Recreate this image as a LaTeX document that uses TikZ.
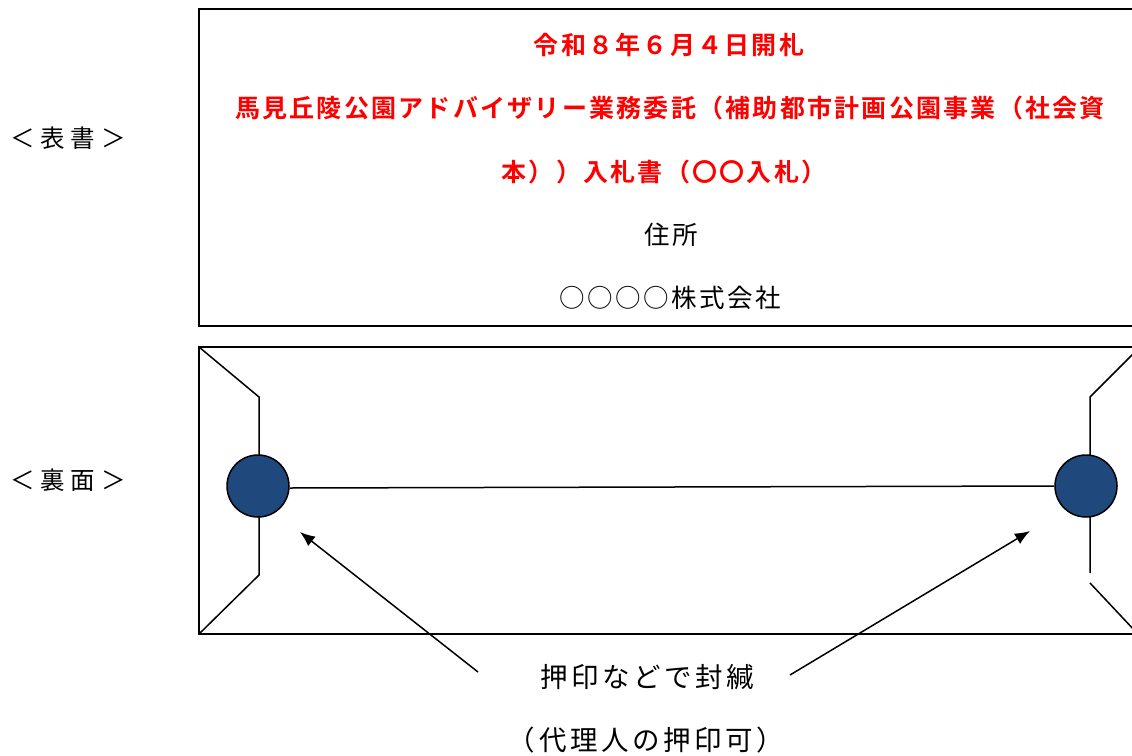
\documentclass[tikz,border=0pt]{standalone}
\usepackage{fontspec}
\usetikzlibrary{arrows.meta}
\newfontfamily\jp[BoldFont={* Bold}]{Noto Sans CJK JP}
\definecolor{sealblue}{RGB}{31,73,125}
\tikzset{
  redtxt/.style={text=red,font=\jp\bfseries\fontsize{25}{28}\selectfont\addfontfeature{LetterSpace=9},inner sep=0pt,anchor=center},
  blktxt/.style={text=black,font=\jp\fontsize{25.5}{28}\selectfont\addfontfeature{LetterSpace=10},inner sep=0pt,anchor=center},
  bigtxt/.style={text=black,font=\jp\fontsize{27.5}{30}\selectfont\addfontfeature{LetterSpace=13},inner sep=0pt,anchor=center},
  lbltxt/.style={text=black,font=\jp\fontsize{24.5}{28}\selectfont\addfontfeature{LetterSpace=24},inner sep=0pt,anchor=center},
  frame/.style={draw=black,line width=2pt},
  flap/.style={draw=black,line width=1.5pt},
  seal/.style={circle,draw=black,line width=1.5pt,fill=sealblue,minimum size=62pt,inner sep=0pt},
  arr/.style={draw=black,line width=1.5pt,-{Latex[length=15pt,width=12pt]}}
}
\begin{document}
\begin{tikzpicture}[x=1pt,y=-1pt]
\useasboundingbox (0,0) rectangle (1132,755);
\clip (0,0) rectangle (1132,755);
% front
\draw[frame] (199,9) rectangle (1145,326);
\node[redtxt] (date) at (669,45) {令和８年６月４日開札};
\node[redtxt] (t1) at (670,108) {馬見丘陵公園アドバイザリー業務委託（補助都市計画公園事業（社会資};
\node[redtxt] (t2) at (664,172) {本））入札書（〇〇入札）};
\node[blktxt] (addr) at (671,235) {住所};
\node[blktxt] (comp) at (670,298) {○○○○株式会社};
\node[lbltxt] (front) at (68,138) {＜表書＞};
% back
\draw[frame] (199,347) rectangle (1145,634);
\node[lbltxt] (back) at (68,480) {＜裏面＞};
\coordinate (l1) at (199,347);
\coordinate (l2) at (259,397);
\coordinate (l3) at (259,575);
\coordinate (l4) at (199,634);
\draw[flap] (l1) -- (l2) -- (l3) -- (l4);
\coordinate (r1) at (1136,351);
\coordinate (r2) at (1090,397);
\coordinate (r3) at (1090,573);
\coordinate (r4) at (1090,583);
\coordinate (r5) at (1136,632);
\draw[flap] (r1) -- (r2) -- (r3);
\draw[flap] (r4) -- (r5);
\node[seal] (sl) at (258,486) {};
\node[seal] (sr) at (1086,486) {};
\draw[flap] (sl.east) ++(0,2) coordinate (se) (se) -- (sr.west);
% notes
\node[bigtxt] (note) at (647,677) {押印などで封緘};
\node[bigtxt] (note2) at (646,740) {（代理人の押印可）};
\coordinate (al) at (478,672);
\coordinate (ar) at (790,675);
\coordinate (tl) at (300,532);
\coordinate (tr) at (1030,531);
\draw[arr] (al) -- (tl);
\draw[arr] (ar) -- (tr);
\end{tikzpicture}
\end{document}
